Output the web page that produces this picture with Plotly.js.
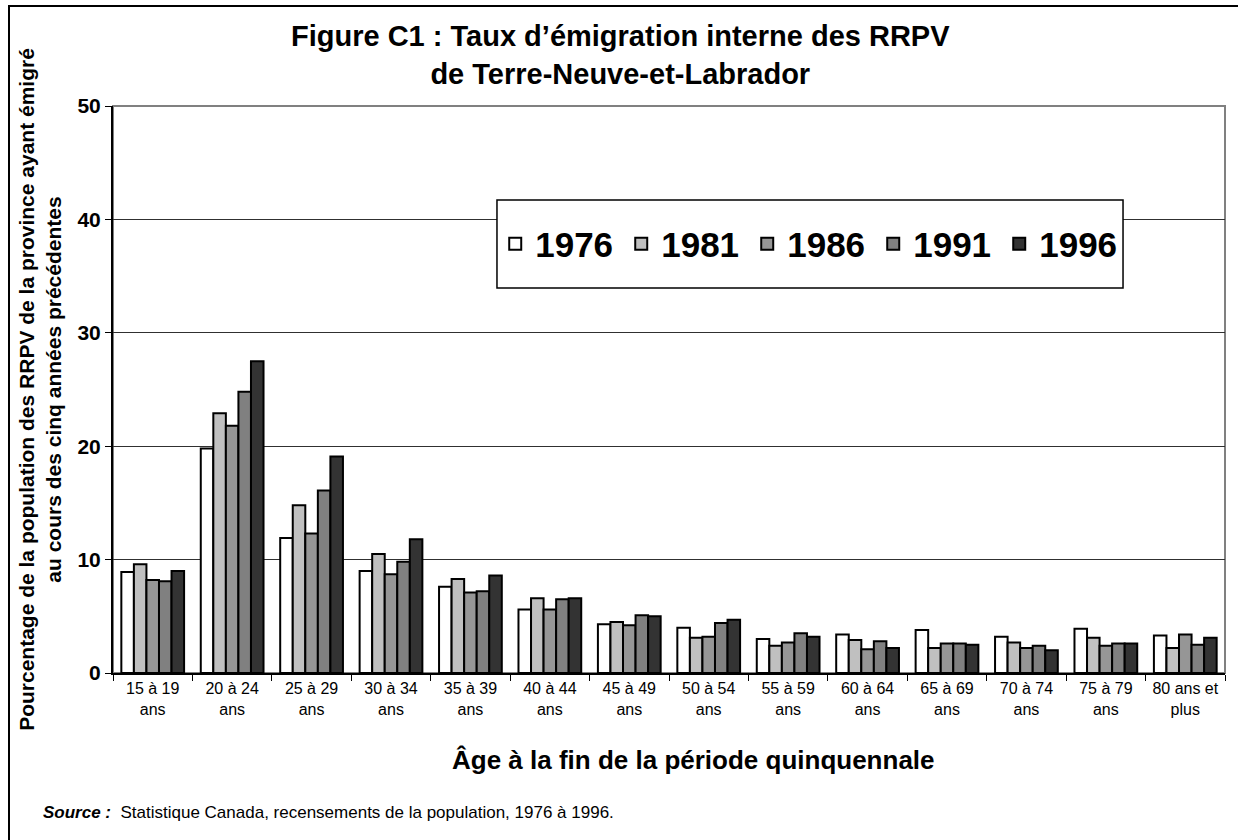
<!DOCTYPE html>
<html>
<head>
<meta charset="utf-8">
<script src="https://cdn.plot.ly/plotly-3.0.1.min.js"></script>
<style>
  body { margin: 0; background: #fff; }
  #myDiv { position: absolute; left: 0; top: 0; width: 1238px; height: 840px; }
  #frame { position: absolute; left: 8px; top: 5px; width: 1240px; height: 850px; border: 2px solid #000; pointer-events: none; }
</style>
</head>
<body>
<div id="myDiv"></div>
<div id="frame"></div>
<script>
// age groups (x categories)
var ageGroups = ["15 à 19<br>ans", "20 à 24<br>ans", "25 à 29<br>ans", "30 à 34<br>ans", "35 à 39<br>ans",
    "40 à 44<br>ans", "45 à 49<br>ans", "50 à 54<br>ans", "55 à 59<br>ans", "60 à 64<br>ans",
    "65 à 69<br>ans", "70 à 74<br>ans", "75 à 79<br>ans", "80 ans et<br>plus"];

// emigration rate (%) per census year
var rate1976 = [8.9, 19.8, 11.9, 9.0, 7.6, 5.6, 4.3, 4.0, 3.0, 3.4, 3.8, 3.2, 3.9, 3.3];
var rate1981 = [9.6, 22.9, 14.8, 10.5, 8.3, 6.6, 4.5, 3.1, 2.4, 2.9, 2.2, 2.7, 3.1, 2.2];
var rate1986 = [8.2, 21.8, 12.3, 8.7, 7.1, 5.6, 4.2, 3.2, 2.7, 2.1, 2.6, 2.2, 2.4, 3.4];
var rate1991 = [8.1, 24.8, 16.1, 9.8, 7.2, 6.5, 5.1, 4.4, 3.5, 2.8, 2.6, 2.4, 2.6, 2.5];
var rate1996 = [9.0, 27.5, 19.1, 11.8, 8.6, 6.6, 5.0, 4.7, 3.2, 2.2, 2.5, 2.0, 2.6, 3.1];

var years = ["1976", "1981", "1986", "1991", "1996"];
var colors = ["#ffffff", "#c0c0c0", "#969696", "#808080", "#333333"];
var series = [rate1976, rate1981, rate1986, rate1991, rate1996];

var data = [];
for (var i = 0; i < series.length; i++) {
    data.push({
        x: ageGroups,
        y: series[i],
        name: "<b>" + years[i] + "</b>",
        type: "bar",
        marker: {
            color: colors[i],
            line: { color: "#000", width: 2 }
        }
    });
}

var layout = {
    width: 1238,
    height: 840,
    margin: { l: 113, r: 13, t: 106, b: 167 },
    paper_bgcolor: "#fff",
    plot_bgcolor: "#fff",
    font: { family: "Liberation Sans, Arial, sans-serif", color: "#000" },
    barmode: "group",
    bargap: 0.21,
    bargroupgap: 0,
    xaxis: {
        type: "category",
        tickson: "boundaries",
        ticks: "outside",
        ticklen: 6,
        tickcolor: "#000",
        tickangle: 0,
        showline: true,
        linecolor: "#000",
        linewidth: 2,
        tickfont: { size: 16 }
    },
    yaxis: {
        range: [0, 50],
        dtick: 10,
        ticks: "outside",
        ticklen: 6,
        tickcolor: "#000",
        showline: true,
        linecolor: "#000",
        linewidth: 2,
        showgrid: true,
        gridcolor: "#303030",
        gridwidth: 1,
        zeroline: false,
        tickfont: { size: 21 },
        tickprefix: "<b>",
        ticksuffix: "</b>",
        title: {
            text: "<b>Pourcentage de la population des RRPV de la province ayant émigré<br>au cours des cinq années précédentes</b>",
            font: { size: 21 },
            standoff: 10
        }
    },
    legend: {
        orientation: "h",
        x: 0.627,
        y: 0.7566,
        xanchor: "center",
        yanchor: "middle",
        bgcolor: "rgba(0,0,0,0)",
        borderwidth: 0,
        font: { size: 35 },
        entrywidth: 81,
        entrywidthmode: "pixels",
        traceorder: "normal"
    },
    shapes: [{
        type: "rect",
        xref: "paper", yref: "paper",
        x0: 0, x1: 1, y0: 0, y1: 1,
        line: { color: "#808080", width: 2 },
        layer: "below"
    }, {
        type: "rect",
        xref: "paper", yref: "paper",
        x0: 0.3453, x1: 0.9083, y0: 0.679, y1: 0.834,
        fillcolor: "#fff",
        line: { color: "#000", width: 1.5 },
        layer: "above"
    }],
    annotations: [{
        text: "<b>Figure C1 : Taux d’émigration interne des RRPV<br>de Terre-Neuve-et-Labrador</b>",
        xref: "paper", yref: "paper",
        x: (620 - 113) / 1112, y: (673 - 55) / 567,
        xanchor: "center", yanchor: "middle",
        showarrow: false,
        font: { size: 29 }
    }, {
        text: "<b>Âge à la fin de la période quinquennale</b>",
        xref: "paper", yref: "paper",
        x: (693 - 113) / 1112, y: -(760 - 673) / 567,
        xanchor: "center", yanchor: "middle",
        showarrow: false,
        font: { size: 26 }
    }, {
        text: "<b><i>Source :</i></b>  Statistique Canada, recensements de la population, 1976 à 1996.",
        xref: "paper", yref: "paper",
        x: -72 / 1112, y: -139 / 567,
        xanchor: "left", yanchor: "middle",
        showarrow: false,
        font: { size: 17 }
    }]
};

Plotly.newPlot("myDiv", data, layout, { displayModeBar: false });
</script>
</body>
</html>
